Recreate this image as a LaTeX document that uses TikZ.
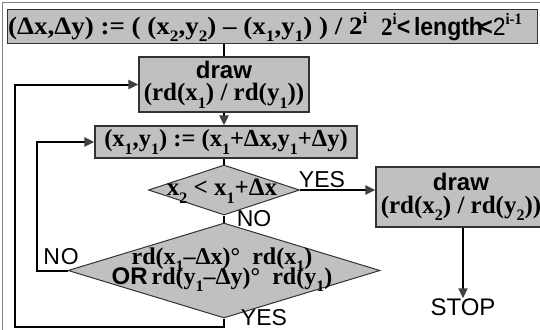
\documentclass[tikz,border=0pt]{standalone}
\usepackage{fontspec}
\setmainfont{Liberation Serif}
\setsansfont{Liberation Sans}
\usetikzlibrary{shapes.geometric,arrows.meta}
\definecolor{boxgray}{RGB}{192,192,192}
\definecolor{edgegray}{RGB}{50,50,50}
\definecolor{framegray}{RGB}{128,128,128}
% sub- and superscripts in the formulas
\newcommand{\lo}[1]{\raisebox{-0.3em}{\fontsize{16}{16}\selectfont #1}}
\newcommand{\hi}[1]{\raisebox{0.45em}{\fontsize{16}{16}\selectfont #1}}
\newcommand{\formula}{\fontsize{25}{25}\selectfont\bfseries}
\begin{document}
\begin{tikzpicture}[x=1pt,y=-1pt,
  box/.style={draw=edgegray, line width=1.2pt, fill=boxgray, inner sep=0pt, align=center},
  dia/.style={diamond, draw=edgegray, line width=1pt, fill=boxgray, inner sep=0pt},
  line/.style={line width=2pt, draw=black},
  arr/.style={line, -{Triangle[length=10pt,width=9pt,color=black!75]}},
  lbl/.style={font=\sffamily\fontsize{23}{23}\selectfont, inner sep=0pt},
  txt/.style={font=\formula, inner sep=0pt, align=center}]
\useasboundingbox (0,0) rectangle (540,329);
\clip (0,0) rectangle (540,329);
% page frame
\draw[framegray, line width=1pt] (2.5,340) -- (2.5,2.5) -- (550,2.5);

% initialisation
\node[box, anchor=north west, minimum width=530, minimum height=34] (init) at (7,9) {};
\node[txt, anchor=west] (ftext) at (8,27) {\scalebox{1.08}[1]{(Δx,Δy) := ( (x\lo2,y\lo2) – (x\lo1,y\lo1) ) / 2\hi{i}}};
\node[txt, anchor=west] (rtext) at (381,27) {\scalebox{0.92}[1]{2\hi{i}{\sffamily <\,length\kern-4pt<\mdseries 2}\hi{i-1}}};

% first point
\node[box, minimum width=170, minimum height=55] (d1) at (224,84.5) {};
\node[txt] (d1t) at (224,85) {{\sffamily\fontsize{24}{24}\selectfont draw}\\[-3pt](rd(x\lo1) / rd(y\lo1))};

% step
\node[box, minimum width=262, minimum height=32] (as) at (226,142) {};
\node[txt, font=\fontsize{24.5}{24.5}\selectfont\bfseries] (ast) at (226,142) {(x\lo1,y\lo1) := (x\lo1+Δx,y\lo1+Δy)};

% end test
\node[dia, minimum width=151, minimum height=50] (q1) at (224,190) {};
\node[txt] (q1t) at (222,191) {x\lo2 < x\lo1+Δx};

% last point
\node[box, minimum width=170, minimum height=60] (d2) at (461,197) {};
\node[txt] (d2t) at (461,197) {{\sffamily\fontsize{24}{24}\selectfont draw}\\[-2pt](rd(x\lo2) / rd(y\lo2))};
\node[lbl, font=\sffamily\fontsize{24}{24}\selectfont] (stop) at (463,307) {STOP};

% pixel change test
\node[dia, minimum width=312, minimum height=95] (q2) at (224,270.5) {};
\node[txt, font=\fontsize{24}{24}\selectfont\bfseries] (q2t) at (222,270) {rd(x\lo1–Δx)°~~rd(x\lo1)\\[-4pt]{\sffamily OR\,}rd(y\lo1–Δy)°~~rd(y\lo1)};

% connectors
\draw[line] (init.south -| d1.north) -- (d1.north);
\draw[arr] (d1.south) -- (as.north -| d1.south);
\draw[line] (as.south -| q1.north) -- (q1.north);
\draw[arr] (q1.east) -- (d2.west |- q1.east);
\draw[arr] (stop.north |- d2.south) -- (stop.north);
\draw[line] (q1.south) -- (q2.north);
\draw[arr] (q2.west) -- ++(-31,0) |- (as.west);
\coordinate (lp) at (15,327);
\draw[arr] (q2.south) |- (lp) |- (d1.west);

% branch labels
\node[lbl] (yes1) at (322,180) {YES};
\node[lbl] (no1) at (254,219) {NO};
\node[lbl] (no2) at (61,257) {N\kern1pt O};
\node[lbl] (yes2) at (264,317.5) {YES};
\end{tikzpicture}
\end{document}
